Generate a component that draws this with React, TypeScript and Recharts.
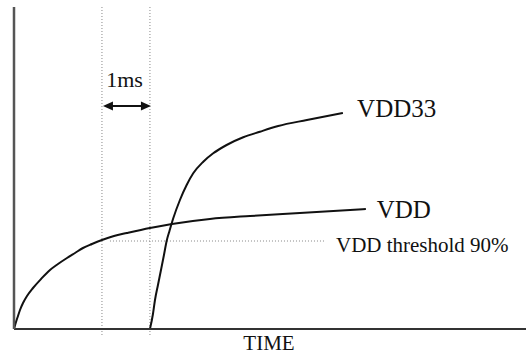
import React from 'react';
import { ComposedChart, Line, XAxis, YAxis, ReferenceLine, ReferenceDot, Label } from 'recharts';

// time in ms, level in arbitrary volts
const vddTime = [0, 0.042, 0.083, 0.125, 0.188, 0.271, 0.396, 0.563, 0.75, 0.917, 1.104, 1.271, 1.438, 1.625, 1.833, 2.083, 2.354, 2.833, 3.292, 4.083, 4.917, 5.958, 7.333];
const vddLevel = [0, 0.07, 0.13, 0.19, 0.26, 0.33, 0.41, 0.5, 0.59, 0.65, 0.71, 0.76, 0.81, 0.85, 0.89, 0.93, 0.96, 1.01, 1.05, 1.1, 1.13, 1.16, 1.2];

const vdd33Time = [2.833, 2.896, 2.938, 3.0, 3.063, 3.125, 3.181, 3.24, 3.319, 3.458, 3.598, 3.735, 3.944, 4.152, 4.431, 4.777, 5.125, 5.506, 6.104, 6.854];
const vdd33Level = [0, 0.15, 0.29, 0.44, 0.59, 0.74, 0.88, 0.98, 1.107, 1.29, 1.44, 1.557, 1.673, 1.757, 1.84, 1.917, 1.973, 2.03, 2.09, 2.16];

const markerTimes = [1.833, 2.833];
const thresholdLevel = 0.88;
const thresholdSpan = [2.0, 6.46];

const labels = ['1ms', 'VDD33', 'VDD', 'VDD threshold 90%', 'TIME'];

const vddData = vddTime.map((t, i) => ({ t, v: vddLevel[i] }));
const vdd33Data = vdd33Time.map((t, i) => ({ t, v: vdd33Level[i] }));

const FONT = '"Liberation Serif", "Times New Roman", serif';

const textAt = (text: string, size: number) => (p: any) => (
    <text x={p.cx} y={p.cy} fontSize={size} fontFamily={FONT} fill="#111" textAnchor="start">
        {text}
    </text>
);

// double headed arrow between the two markers
const Arrow = (p: any) => {
    const { x1, y1, x2 } = p;
    const h = 10;
    const w = 4.5;
    return (
        <g>
            <line x1={x1 + h - 1} y1={y1} x2={x2 - h + 1} y2={y1} stroke="#111" strokeWidth={2} />
            <path d={`M${x1},${y1} L${x1 + h},${y1 - w} L${x1 + h},${y1 + w} Z`} fill="#111" />
            <path d={`M${x2},${y1} L${x2 - h},${y1 - w} L${x2 - h},${y1 + w} Z`} fill="#111" />
        </g>
    );
};

export default function App() {
    return (
        <div style={{ position: 'absolute', left: 0, top: 0, width: 526, height: 356, background: '#fff' }}>
            <ComposedChart width={526} height={356} margin={{ top: 7, right: 0, bottom: 0, left: 0 }}>
                <XAxis
                    type="number"
                    dataKey="t"
                    domain={[0, 10.67]}
                    allowDataOverflow
                    height={27}
                    tick={false}
                    tickLine={false}
                    axisLine={{ stroke: '#333', strokeWidth: 2 }}
                >
                    <Label
                        content={(props: any) => {
                            const vb = props.viewBox;
                            return (
                                <text x={vb.x + vb.width / 2 - 1} y={vb.y + 21} fontSize={21} fontFamily={FONT} fill="#111" textAnchor="middle">
                                    {labels[4]}
                                </text>
                            );
                        }}
                    />
                </XAxis>
                <YAxis
                    type="number"
                    domain={[0, 3.22]}
                    allowDataOverflow
                    width={14}
                    tick={false}
                    tickLine={false}
                    axisLine={{ stroke: '#555', strokeWidth: 2.5 }}
                />

                {markerTimes.map((t) => (
                    <ReferenceLine
                        key={t}
                        segment={[{ x: t, y: -0.06 }, { x: t, y: 3.22 }]}
                        ifOverflow="visible"
                        stroke="#888"
                        strokeWidth={1}
                        strokeDasharray="1 2"
                    />
                ))}
                <ReferenceLine
                    segment={[{ x: thresholdSpan[0], y: thresholdLevel }, { x: thresholdSpan[1], y: thresholdLevel }]}
                    stroke="#888"
                    strokeWidth={1}
                    strokeDasharray="1 2"
                />
                <ReferenceLine
                    segment={[{ x: 1.854, y: 2.23 }, { x: 2.854, y: 2.23 }]}
                    shape={Arrow}
                />

                <Line data={vddData} dataKey="v" type="monotone" stroke="#111" strokeWidth={2} dot={false} isAnimationActive={false} />
                <Line data={vdd33Data} dataKey="v" type="monotone" stroke="#111" strokeWidth={2} dot={false} isAnimationActive={false} />

                <ReferenceDot x={1.92} y={2.42} r={0} ifOverflow="visible" shape={textAt(labels[0], 22)} />
                <ReferenceDot x={7.15} y={2.12} r={0} ifOverflow="visible" shape={textAt(labels[1], 25)} />
                <ReferenceDot x={7.56} y={1.11} r={0} ifOverflow="visible" shape={textAt(labels[2], 25)} />
                <ReferenceDot x={6.71} y={0.77} r={0} ifOverflow="visible" shape={textAt(labels[3], 21)} />
            </ComposedChart>
        </div>
    );
}
